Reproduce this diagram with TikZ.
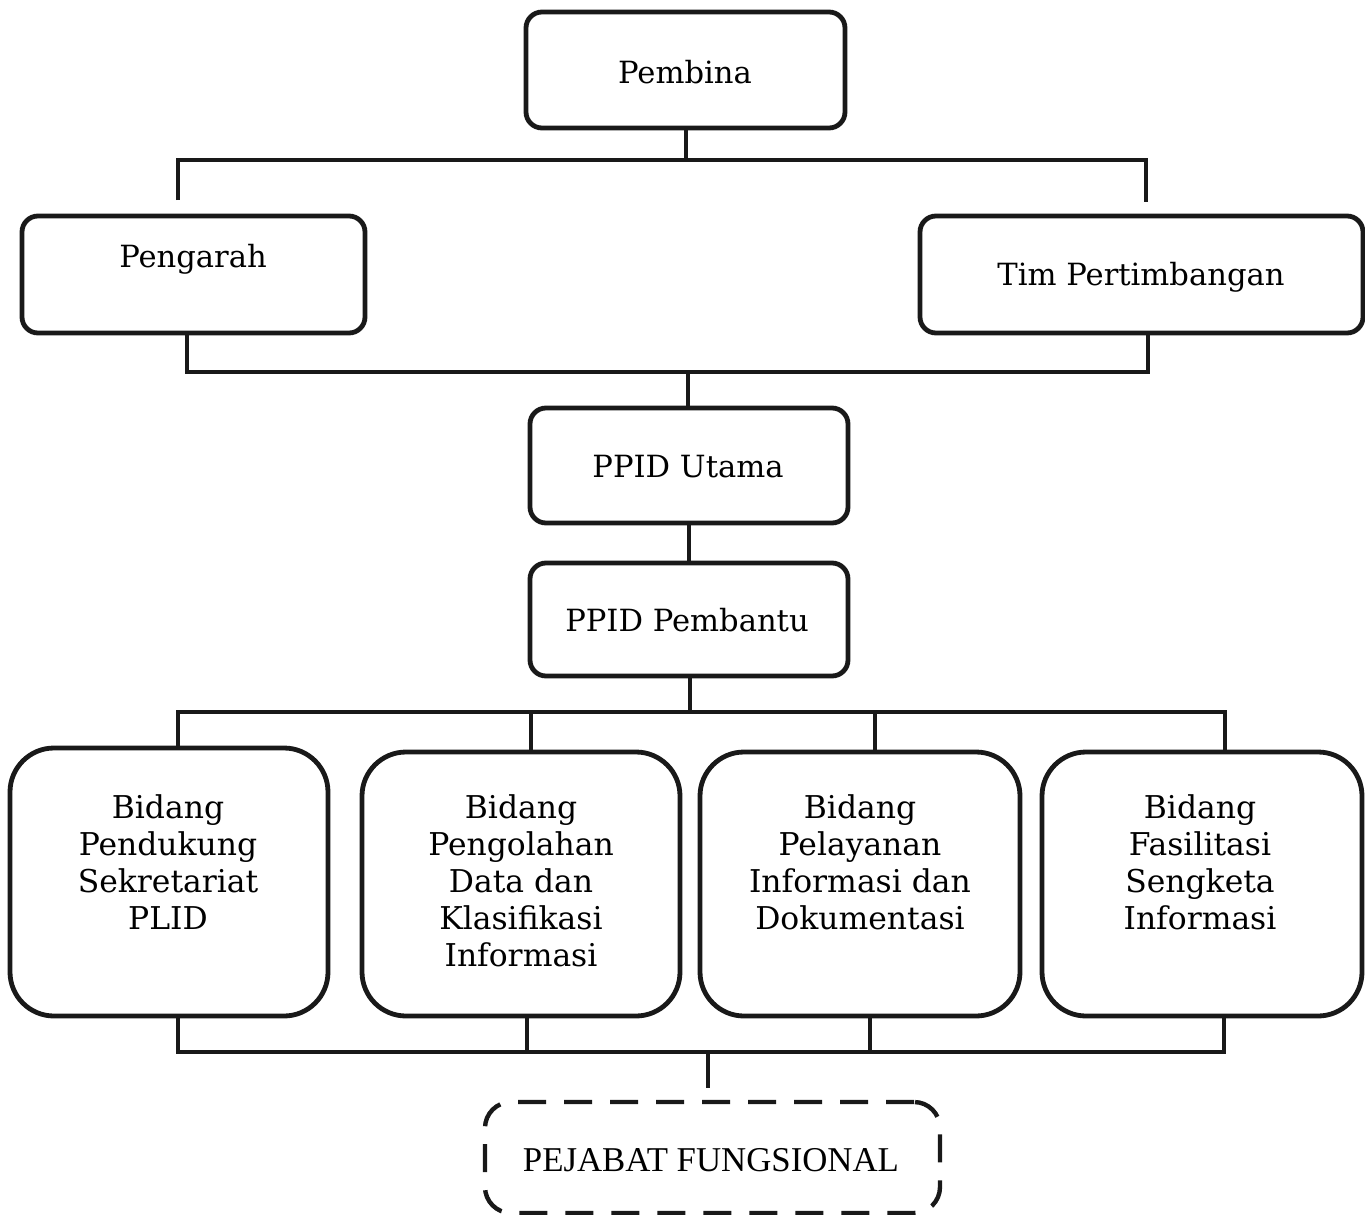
\documentclass[tikz,border=0pt]{standalone}
\usepackage{fontspec}
\setmainfont{DejaVu Serif}
\newfontfamily\pejfont{Liberation Serif}
\begin{document}
\begin{tikzpicture}[x=0.5pt,y=-0.5pt,
  box/.style={draw=black!90, line width=2.4pt, rounded corners=8pt, inner sep=0pt},
  bigbox/.style={draw=black!90, line width=2.4pt, rounded corners=22pt, inner sep=0pt, minimum width=159pt, minimum height=132pt},
  dbox/.style={draw=black!90, line width=2.2pt, rounded corners=13pt, dash pattern=on 14pt off 9pt, inner sep=0pt},
  conn/.style={draw=black!90, line width=2pt},
  lbl/.style={font=\fontsize{15.3}{18}\selectfont, inner sep=0pt},
  blbl/.style={font=\fontsize{15.7}{18.5}\selectfont, align=center, anchor=north, inner sep=0pt}
]
\useasboundingbox (0,0) rectangle (1365,1215);
% top boxes
\node[box, minimum width=159.5pt, minimum height=58pt] (pembina) at (685.5,70) {};
\node[lbl] (pembinatxt) at (685,72) {Pembina};
\node[box, minimum width=171.5pt, minimum height=58.5pt] (pengarah) at (193.5,274.5) {};
\node[lbl] (pengarahtxt) at (193,259) {Pengarah};
\node[box, minimum width=221.5pt, minimum height=58.5pt] (tim) at (1141.5,274.5) {};
\node[lbl] (timtxt) at (1141,277) {Tim Pertimbangan};
\node[box, minimum width=159pt, minimum height=57.5pt] (utama) at (689,465.5) {};
\node[lbl] (utamatxt) at (688,467) {PPID Utama};
\node[box, minimum width=159pt, minimum height=56.5pt] (pembantu) at (689,619.5) {};
\node[lbl] (pembantutxt) at (687,620) {PPID Pembantu};
% bidang boxes
\node[bigbox, minimum height=134pt] (bid1) at (169,882) {};
\node[bigbox] (bid2) at (521,884) {};
\node[bigbox, minimum width=160pt] (bid3) at (860,884) {};
\node[bigbox, minimum width=160pt] (bid4) at (1202,884) {};
\node[blbl] (t1) at (168,794) {Bidang\\Pendukung\\Sekretariat\\PLID};
\node[blbl] (t2) at (521,794) {Bidang\\Pengolahan\\Data dan\\Klasifikasi\\Informasi};
\node[blbl] (t3) at (860,794) {Bidang\\Pelayanan\\Informasi dan\\Dokumentasi};
\node[blbl] (t4) at (1200,794) {Bidang\\Fasilitasi\\Sengketa\\Informasi};
% pejabat
\node[dbox, minimum width=227.5pt, minimum height=55.5pt] (pej) at (712.5,1157.5) {};
\node[font=\pejfont\fontsize{17.4}{20}\selectfont, inner sep=0pt] (pejtxt) at (711,1160) {PEJABAT FUNGSIONAL};
% coordinates
\coordinate (a0) at (686,160);
\coordinate (a1) at (178,200);
\coordinate (a2) at (178,160);
\coordinate (a3) at (1146,160);
\coordinate (a4) at (1146,202);
\coordinate (b1) at (187,372);
\coordinate (b2) at (1148,372);
\coordinate (b0) at (688,372);
\coordinate (c0) at (690,712);
\coordinate (c1) at (178,712);
\coordinate (c2) at (531,712);
\coordinate (c3) at (875,712);
\coordinate (c4) at (1225,712);
\coordinate (d1) at (178,1052);
\coordinate (d2) at (527,1052);
\coordinate (d3) at (870,1052);
\coordinate (d4) at (1224,1052);
\coordinate (d0) at (708,1052);
\coordinate (d5) at (708,1088);
% connectors
\draw[conn] (pembina.south -| a0) -- (a0);
\draw[conn] (a1) -- (a2) -- (a3) -- (a4);
\draw[conn] (pengarah.south -| b1) -- (b1) -- (b2) -- (tim.south -| b2);
\draw[conn] (b0) -- (utama.north -| b0);
\draw[conn] (utama.south) -- (pembantu.north);
\draw[conn] (pembantu.south -| c0) -- (c0);
\draw[conn] (bid1.north -| c1) -- (c1) -- (c4) -- (bid4.north -| c4);
\draw[conn] (c2) -- (bid2.north -| c2);
\draw[conn] (c3) -- (bid3.north -| c3);
\draw[conn] (bid1.south -| d1) -- (d1) -- (d4) -- (bid4.south -| d4);
\draw[conn] (bid2.south -| d2) -- (d2);
\draw[conn] (bid3.south -| d3) -- (d3);
\draw[conn] (d0) -- (d5);
\end{tikzpicture}
\end{document}
